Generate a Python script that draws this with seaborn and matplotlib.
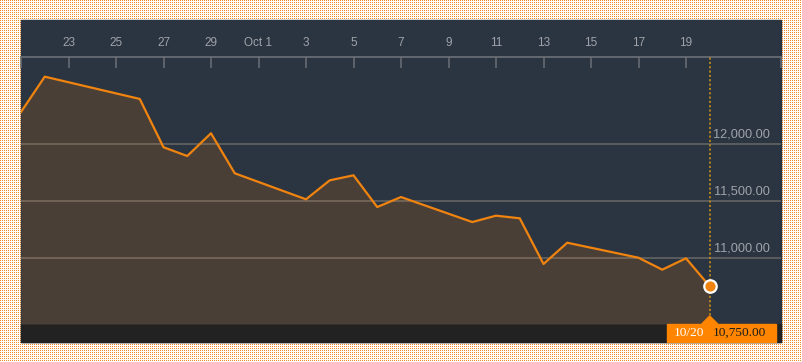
import numpy as np
import pandas as pd
import matplotlib
matplotlib.use("Agg")
import matplotlib.pyplot as plt
import matplotlib.transforms as mtransforms
from matplotlib.patches import Rectangle, Polygon
import seaborn as sns

# Data
dates = pd.to_datetime([
    "2016-09-21", "2016-09-22", "2016-09-26", "2016-09-27", "2016-09-28",
    "2016-09-29", "2016-09-30", "2016-10-03", "2016-10-04", "2016-10-05",
    "2016-10-06", "2016-10-07", "2016-10-10", "2016-10-11", "2016-10-12",
    "2016-10-13", "2016-10-14", "2016-10-17", "2016-10-18", "2016-10-19",
    "2016-10-20",
])
values = [
    12284, 12595, 12399, 11974, 11897,
    12097, 11745, 11516, 11683, 11727,
    11448, 11536, 11316, 11372, 11349,
    10947, 11134, 11002, 10897, 10997,
    10750,
]
tick_dates = pd.to_datetime([
    "2016-09-23", "2016-09-25", "2016-09-27", "2016-09-29", "2016-10-01",
    "2016-10-03", "2016-10-05", "2016-10-07", "2016-10-09", "2016-10-11",
    "2016-10-13", "2016-10-15", "2016-10-17", "2016-10-19",
])
tick_labels = ["23", "25", "27", "29", "Oct 1", "3", "5", "7", "9", "11",
               "13", "15", "17", "19"]
y_ticks = [11000, 11500, 12000]
x_range = pd.to_datetime(["2016-09-21", "2016-10-23"])
y_range = (10419, 12768)

# Colours
NAVY = "#2b3441"
FILL = "#4a3f37"
ORANGE = "#f0840f"
RULER = "#6c7076"
LABEL = "#a0a4aa"

W, H = 802, 362


def fx(px):
    return px / W


def fy(py):
    return 1 - py / H


def main():
    df = pd.DataFrame({"date": dates, "value": values})

    fig = plt.figure(figsize=(W / 100, H / 100), dpi=100)

    # dotted orange/white background, drawn pixel for pixel
    bg = np.ones((H, W, 3))
    bg[0::2, 0::2] = np.array([242, 140, 36]) / 255
    fig.figimage(bg, xo=0, yo=0, origin="upper", zorder=-10, interpolation="nearest")

    # panel + bottom strip
    fig.patches.append(Rectangle((fx(21), fy(341.5)), fx(760), 321.5 / H,
                                 transform=fig.transFigure, color=NAVY, zorder=-5))
    fig.patches.append(Rectangle((fx(21), fy(341.5)), fx(760), 17.5 / H,
                                 transform=fig.transFigure, color="#222222", zorder=-4))

    ax = fig.add_axes([fx(21), fy(324), fx(760), 267 / H])
    ax.set_facecolor(NAVY)

    ax.fill_between(df["date"], df["value"], y_range[0], color=FILL, lw=0, zorder=1)
    sns.lineplot(data=df, x="date", y="value", ax=ax, color=ORANGE, lw=1.6, zorder=4)

    ax.set_xlim(x_range[0], x_range[1])
    ax.set_ylim(*y_range)

    # horizontal grid lines
    for yv in y_ticks:
        ax.axhline(yv, color="#c8b49a", alpha=0.4, lw=1.1, zorder=2)

    # hover line + marker
    ax.axvline(dates[-1], color="#b8861c", lw=1.3, ls=(0, (1.2, 1.2)), zorder=3)
    sns.scatterplot(x=[dates[-1]], y=[values[-1]], ax=ax, s=80, color=ORANGE,
                    edgecolor="white", linewidth=1.6, zorder=6, clip_on=False)

    # top ruler axis
    for s in ["left", "right", "bottom"]:
        ax.spines[s].set_visible(False)
    ax.spines["top"].set_color(RULER)
    ax.spines["top"].set_linewidth(1.2)
    ax.xaxis.tick_top()
    ax.set_xticks(tick_dates)
    ax.set_xticklabels(tick_labels)
    ax.set_xticks(list(x_range), minor=True)
    ax.tick_params(axis="x", which="both", direction="in", length=8, width=1.1,
                   color=RULER, labelcolor=LABEL, labelsize=8.5, pad=5.5)
    for lab in ax.get_xticklabels():
        lab.set_fontfamily("Liberation Sans")
    ax.set_xlabel("")
    ax.set_ylabel("")

    # right-side value labels, inside the plot above the grid line
    ax.yaxis.tick_right()
    ax.set_yticks(y_ticks)
    ax.set_yticklabels([f"{v:,.2f}" for v in y_ticks])
    ax.tick_params(axis="y", length=0, pad=-7.9, labelcolor=LABEL, labelsize=9.2)
    offset = mtransforms.ScaledTranslation(0, 5.0 / 72, fig.dpi_scale_trans)
    for lab in ax.get_yticklabels():
        lab.set_horizontalalignment("right")
        lab.set_verticalalignment("baseline")
        lab.set_fontfamily("Liberation Sans")
        lab.set_transform(lab.get_transform() + offset)

    # value box at the bottom, placed at the last point
    fig.canvas.draw()
    xm = ax.transData.transform((ax.xaxis.convert_units(dates[-1]), values[-1]))[0]
    box_l, box_r = xm - 43, xm + 66
    fig.patches.append(Rectangle((box_l / W, fy(341.5)), (box_r - box_l) / W, 17.5 / H,
                                 transform=fig.transFigure, color="#ff8500", zorder=10))
    fig.patches.append(Polygon([((xm - 8) / W, fy(324)), (xm / W, fy(316)),
                                ((xm + 8) / W, fy(324))],
                               transform=fig.transFigure, color="#ff8500", zorder=10))
    fig.text((xm - 21) / W, fy(333), dates[-1].strftime("%m/%d"), color="white",
             fontsize=9.6, family="Liberation Serif", ha="center", va="center", zorder=11)
    fig.text((xm + 3) / W, fy(333), f"{values[-1]:,.2f}", color="#1c1c1c",
             fontsize=9.6, family="Liberation Serif", ha="left", va="center", zorder=11)

    fig.savefig("out.png", dpi=100)


if __name__ == "__main__":
    main()
